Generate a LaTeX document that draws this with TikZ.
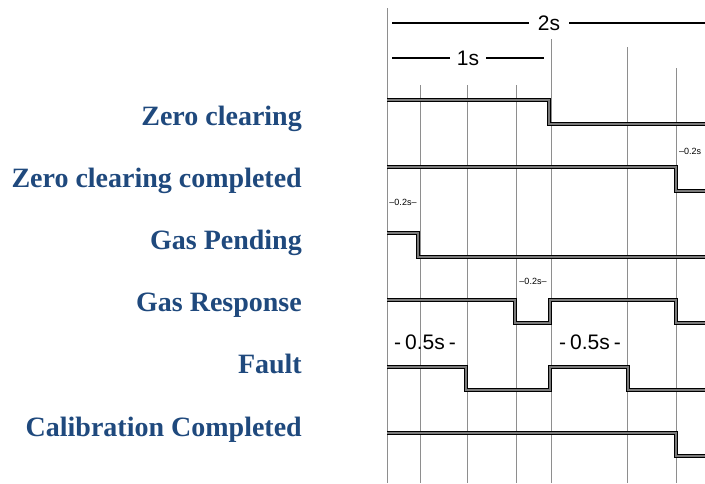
\documentclass[tikz,border=0pt]{standalone}
\usepackage{fontspec}
\setmainfont{Liberation Serif}
\newfontfamily\arialf{Liberation Sans}
\usepackage{tikz}
\usetikzlibrary{positioning}
\definecolor{labc}{HTML}{1F497D}
\definecolor{gridc}{HTML}{8E8E8E}
\definecolor{sigc}{HTML}{7A7A7A}
\tikzset{
  lab/.style={anchor=base east,inner sep=0pt,text=labc,font=\fontsize{28}{30}\selectfont\bfseries},
  sig/.style={draw=black,line width=1pt,double=sigc,double distance=2.4pt},
  gridln/.style={gridc,line width=0.7pt},
  dimln/.style={black,line width=1.3pt},
  dimlab/.style={inner sep=9pt,font=\arialf\fontsize{21}{24}\selectfont},
  smalltag/.style={inner sep=0pt,font=\arialf\fontsize{9}{10}\selectfont},
  halfsec/.style={inner sep=0pt,font=\arialf\fontsize{21}{24}\selectfont}
}

\begin{document}
\begin{tikzpicture}[x=1pt,y=-1pt]
\useasboundingbox (0,0) rectangle (705,483);
% grid
\foreach \gx/\gy in {387/8,420/85,467/85,516/85,551/39,627/47,676/68}
  \draw[gridln] (\gx,\gy) -- (\gx,483);
% time scale
\node[dimlab] (two) at (549,23) {2s};
\coordinate (twoL) at (392,23);
\coordinate (twoR) at (705,23);
\draw[dimln] (twoL) -- (two) -- (twoR);
\node[dimlab,inner sep=7pt] (one) at (468,58) {1s};
\coordinate (oneL) at (392,58);
\coordinate (oneR) at (544,58);
\draw[dimln] (oneL) -- (one) -- (oneR);
% signal names
\node[lab] (zc) at (302,125) {Zero clearing};
\node[lab] (zcc) at (302,187) {Zero clearing completed};
\node[lab] (gp) at (302,249) {Gas Pending};
\node[lab] (gr) at (302,311) {Gas Response};
\node[lab] (ft) at (302,373) {Fault};
\node[lab] (cc) at (302,436) {Calibration Completed};
% waveforms
\draw[sig] (387,100) -- (549,100) -- (549,124) -- (707,124);
\draw[sig] (387,167) -- (676,167) -- (676,191) -- (707,191);
\draw[sig] (387,233) -- (418,233) -- (418,257) -- (707,257);
\draw[sig] (387,300) -- (515,300) -- (515,323) -- (550,323) -- (550,300) -- (676,300) -- (676,323) -- (707,323);
\draw[sig] (387,367) -- (466,367) -- (466,390) -- (550,390) -- (550,367) -- (628,367) -- (628,390) -- (707,390);
\draw[sig] (387,433) -- (676,433) -- (676,456) -- (707,456);
% durations
\node[smalltag,anchor=west] (dzc) at (679,151) {–0.2s};
\node[smalltag] (dgp) at (403,202) {–0.2s–};
\node[smalltag] (dgr) at (533,281) {–0.2s–};
\node[halfsec] (dfa) at (425,342) {-\hspace{4pt}0.5s\hspace{4pt}-};
\node[halfsec] (dfb) at (590,342) {-\hspace{4pt}0.5s\hspace{4pt}-};
\end{tikzpicture}
\end{document}
